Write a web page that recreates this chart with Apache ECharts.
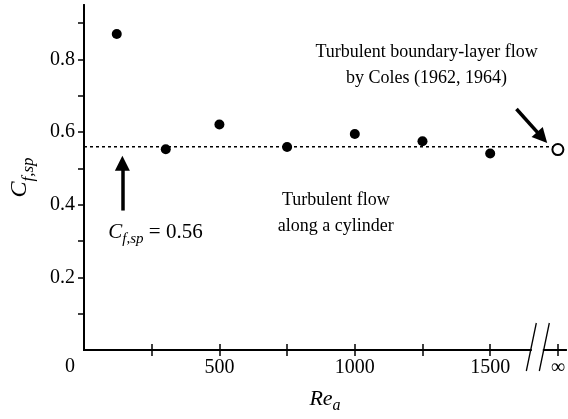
<!DOCTYPE html>
<html><head><meta charset="utf-8">
<script src="https://cdn.jsdelivr.net/npm/echarts@6/dist/echarts.min.js"></script>
<style>html,body{margin:0;padding:0;background:#fff}#c{width:568px;height:419px}</style>
</head><body><div id="c"></div>
<script>
// Data
const reValues = [121, 302, 500, 750, 1000, 1250, 1500];
const cfValues = [0.870, 0.553, 0.621, 0.559, 0.595, 0.575, 0.541];
const colesRe = [1750];           // position of the "infinity" tick
const colesCf = [0.552];
const meanCf = 0.56;
const xTickValues = [250, 500, 750, 1000, 1250, 1500, 1750];
const xLabelValues = [500, 1000, 1500, 1750];
const yTickValues = [0.1, 0.2, 0.3, 0.4, 0.5, 0.6, 0.7, 0.8, 0.9];
const yLabelValues = [0.2, 0.4, 0.6, 0.8];

const FONT = "'Liberation Serif', 'Times New Roman', serif";
const chart = echarts.init(document.getElementById('c'), null, {renderer: 'canvas'});

const axisLine = {show: true, lineStyle: {color: '#000', width: 2}};
const xMin = 0, xMax = 1780, yMin = 0, yMax = 0.95;

const option = {
  animation: false,
  backgroundColor: '#fff',
  grid: {left: 83, right: 0, top: 5, bottom: 66},
  xAxis: [{
    type: 'value', min: xMin, max: xMax, position: 'bottom',
    axisLine: axisLine,
    axisTick: {show: true, inside: true, length: 6, lineStyle: {color: '#000', width: 1.5}, customValues: xTickValues},
    axisLabel: {customValues: xLabelValues, margin: 8, color: '#000', fontFamily: FONT, fontSize: 20,
      formatter: v => v === 1750 ? '∞' : String(v)},
    splitLine: {show: false},
    name: '{i|Re}{s|a}', nameLocation: 'middle', nameGap: 36,
    nameTextStyle: {rich: {
      i: {fontFamily: FONT, fontStyle: 'italic', fontSize: 22, color: '#000', lineHeight: 24, verticalAlign: 'bottom'},
      s: {fontFamily: FONT, fontStyle: 'italic', fontSize: 16, color: '#000', lineHeight: 14, verticalAlign: 'bottom', padding: [0, 0, -4, 0]}
    }}
  }, {
    type: 'value', min: xMin, max: xMax, position: 'top',
    axisLine: axisLine,
    axisTick: {show: true, inside: true, length: 6, lineStyle: {color: '#000', width: 1.5}, customValues: xTickValues},
    axisLabel: {show: false}, splitLine: {show: false}
  }],
  yAxis: [{
    type: 'value', min: yMin, max: yMax, position: 'left',
    axisLine: axisLine,
    axisTick: {show: true, inside: false, length: 6, lineStyle: {color: '#000', width: 1.5}, customValues: yTickValues},
    axisLabel: {customValues: yLabelValues, margin: 9, color: '#000', fontFamily: FONT, fontSize: 20,
      formatter: v => v.toFixed(1)},
    splitLine: {show: false},
    name: '{i|C}{s|f,sp}', nameLocation: 'middle', nameGap: 52, nameRotate: 90,
    nameTextStyle: {rich: {
      i: {fontFamily: FONT, fontStyle: 'italic', fontSize: 24, color: '#000', lineHeight: 26, verticalAlign: 'bottom'},
      s: {fontFamily: FONT, fontStyle: 'italic', fontSize: 17, color: '#000', lineHeight: 16, verticalAlign: 'bottom', padding: [0, 0, -5, 0]}
    }}
  }, {
    type: 'value', min: yMin, max: yMax, position: 'right',
    axisLine: axisLine,
    axisTick: {show: true, inside: true, length: 6, lineStyle: {color: '#000', width: 1.5}, customValues: yTickValues},
    axisLabel: {show: false}, splitLine: {show: false}
  }],
  series: [{
    type: 'line', xAxisIndex: 0, yAxisIndex: 0,
    data: [[xMin, meanCf], [colesRe[0], meanCf]],
    symbol: 'none', silent: true, z: 2,
    lineStyle: {color: '#000', width: 1.5, type: [3, 3]},
    markLine: {
      silent: true, animation: false,
      symbol: ['none', 'triangle'], symbolSize: 15,
      label: {show: false},
      itemStyle: {color: '#000'},
      lineStyle: {color: '#000', width: 3.5, type: 'solid', opacity: 1},
      data: [
        [{coord: [141.7, 0.384]}, {coord: [141.7, 0.514]}],
        [{coord: [1597, 0.6635]}, {coord: [1692, 0.585]}]
      ]
    }
  }, {
    type: 'scatter', xAxisIndex: 0, yAxisIndex: 0,
    data: reValues.map((x, i) => [x, cfValues[i]]),
    symbol: 'circle', symbolSize: 10, z: 5,
    itemStyle: {color: '#000', opacity: 1}
  }, {
    type: 'scatter', xAxisIndex: 0, yAxisIndex: 0,
    data: colesRe.map((x, i) => [x, colesCf[i]]),
    symbol: 'circle', symbolSize: 11, z: 6,
    itemStyle: {color: '#fff', borderColor: '#000', borderWidth: 2, opacity: 1}
  }]
};
chart.setOption(option);

// annotations & axis break, placed from data coordinates
const px = (x, y) => chart.convertToPixel({gridIndex: 0}, [x, y]);
const p0 = px(0, 0);
const b1 = px(1650, 0), b2 = px(1698, 0);
const txt = (x, y, text, extra) => ({
  type: 'text', x: x, y: y, z: 100,
  style: Object.assign({text: text, fill: '#000', font: '18px ' + FONT, align: 'center', verticalAlign: 'middle'}, extra || {})
});
const upper = px(1265, 0.785);
const lower = px(930, 0.377);
const cfLab = px(264, 0.328);
chart.setOption({
  graphic: [
    {type: 'rect', z: 90, shape: {x: b1[0] + 1, y: p0[1] - 2, width: b2[0] - b1[0] - 2, height: 4}, style: {fill: '#fff'}},
    {type: 'line', z: 95, shape: {x1: b1[0] - 4.5, y1: p0[1] + 21, x2: b1[0] + 5.5, y2: p0[1] - 27}, style: {stroke: '#000', lineWidth: 1.3}},
    {type: 'line', z: 95, shape: {x1: b2[0] - 4.5, y1: p0[1] + 21, x2: b2[0] + 5.5, y2: p0[1] - 27}, style: {stroke: '#000', lineWidth: 1.3}},
    txt(p0[0] - 14, p0[1] + 17, '0', {font: '20px ' + FONT}),
    txt(upper[0], upper[1], 'Turbulent boundary-layer flow\nby Coles (1962, 1964)', {lineHeight: 26}),
    txt(lower[0], lower[1], 'Turbulent flow\nalong a cylinder', {lineHeight: 26}),
    {type: 'text', x: cfLab[0], y: cfLab[1], z: 100, style: {
      text: '{i|C}{s|f,sp}{n| = 0.56}', align: 'center', verticalAlign: 'middle',
      rich: {
        i: {font: 'italic 21px ' + FONT, fill: '#000', lineHeight: 24, verticalAlign: 'bottom'},
        s: {font: 'italic 15px ' + FONT, fill: '#000', lineHeight: 14, verticalAlign: 'bottom', padding: [0, 0, -4, 0]},
        n: {font: '21px ' + FONT, fill: '#000', lineHeight: 24, verticalAlign: 'bottom'}
      }
    }}
  ]
});
</script></body></html>
